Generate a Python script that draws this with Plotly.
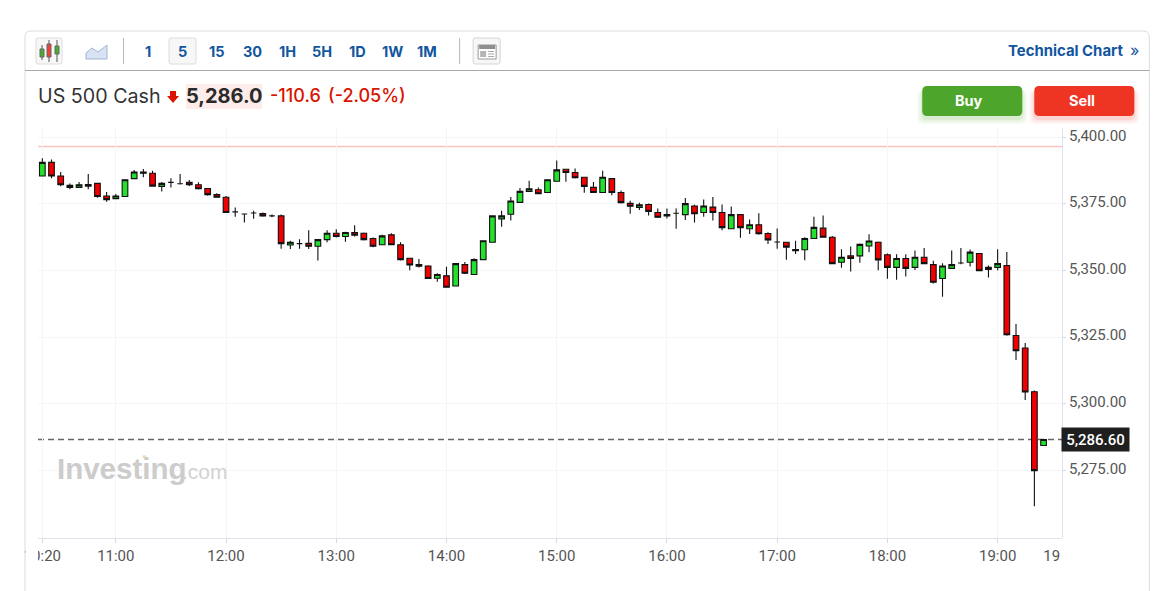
import pandas as pd
import plotly.graph_objects as go

open_ = [5385.5,5390.6,5385.5,5382.0,5381.2,5381.7,5382.7,5378.0,5377.0,5377.8,
5384.5,5386.5,5386.5,5381.6,5383.1,5382.6,5383.1,5382.2,5380.8,5378.5,
5377.5,5372.0,5371.2,5371.6,5371.4,5370.5,5370.5,5359.6,5360.1,5360.2,
5359.1,5361.6,5364.0,5362.8,5364.3,5364.0,5362.0,5359.7,5363.4,5359.7,
5354.6,5352.2,5351.7,5347.1,5348.0,5344.2,5352.2,5348.5,5354.1,5360.6,
5369.4,5371.1,5375.6,5379.7,5380.3,5379.3,5383.5,5388.0,5386.8,5385.0,
5381.2,5379.3,5384.5,5379.3,5375.2,5373.7,5374.8,5371.8,5371.0,5371.5,
5371.0,5374.2,5371.8,5373.8,5371.8,5365.7,5371.0,5365.7,5367.2,5363.9,
5360.7,5360.6,5357.9,5357.8,5362.0,5365.9,5362.5,5353.1,5355.5,5355.5,
5359.2,5360.6,5355.9,5351.2,5354.5,5351.2,5355.0,5352.2,5347.0,5350.8,
5352.8,5353.1,5356.4,5350.4,5351.2,5351.9,5325.6,5320.9,5304.5,5284.3]
high = [5392.1,5391.7,5387.0,5382.7,5383.2,5386.2,5382.7,5379.5,5378.7,5384.1,
5387.7,5388.1,5387.5,5383.2,5384.6,5386.2,5384.0,5383.1,5380.8,5379.0,
5378.0,5373.7,5371.4,5372.4,5371.8,5371.0,5371.0,5361.2,5361.7,5365.1,
5361.6,5365.1,5365.5,5364.6,5367.0,5364.3,5362.4,5363.4,5364.0,5360.6,
5354.6,5354.3,5352.0,5349.0,5351.4,5352.8,5353.2,5354.6,5361.4,5370.6,
5372.4,5377.6,5381.0,5383.7,5381.2,5384.2,5391.3,5388.0,5388.3,5385.2,
5383.2,5387.5,5384.6,5380.0,5376.2,5375.4,5375.2,5373.3,5373.3,5373.3,
5377.2,5374.7,5376.7,5377.6,5374.8,5374.0,5371.0,5369.2,5371.5,5364.4,
5365.8,5360.6,5361.2,5362.5,5370.2,5370.7,5363.0,5358.0,5359.0,5360.1,
5363.6,5360.9,5356.4,5356.1,5356.1,5357.5,5358.5,5353.7,5352.7,5357.5,
5358.5,5357.9,5356.5,5351.9,5358.0,5357.0,5329.9,5322.8,5305.0,5286.8]
low = [5385.5,5384.6,5381.6,5380.5,5381.2,5380.5,5377.3,5375.8,5376.8,5377.8,
5384.5,5385.0,5381.7,5379.7,5381.2,5382.3,5381.7,5380.4,5378.1,5377.3,
5371.8,5370.2,5368.0,5369.4,5370.2,5370.0,5358.2,5358.1,5358.2,5358.1,
5353.8,5360.6,5362.4,5360.8,5362.8,5361.3,5358.7,5359.6,5359.6,5353.8,
5350.1,5351.1,5346.8,5345.8,5343.7,5344.2,5348.7,5348.5,5354.1,5360.6,
5366.4,5368.8,5375.6,5379.7,5378.7,5379.3,5383.5,5383.3,5384.5,5379.2,
5379.2,5379.3,5378.3,5375.2,5371.3,5372.7,5370.7,5369.7,5369.5,5365.7,
5369.0,5368.0,5370.2,5368.8,5365.1,5365.7,5362.3,5363.7,5363.4,5360.0,
5358.2,5354.0,5356.2,5353.9,5362.0,5362.5,5352.6,5351.0,5349.6,5352.9,
5356.9,5350.1,5346.9,5346.5,5347.8,5350.2,5352.4,5345.1,5340.2,5350.8,
5352.4,5351.5,5349.7,5347.4,5350.1,5325.5,5316.4,5301.4,5261.5,5284.3]
close = [5390.6,5385.5,5382.2,5381.2,5382.2,5382.3,5377.8,5376.6,5378.0,5384.1,
5387.0,5387.0,5381.7,5382.7,5383.1,5382.6,5382.2,5380.7,5378.5,5377.5,
5371.8,5372.0,5371.2,5371.6,5370.5,5370.5,5360.1,5360.6,5360.1,5359.1,
5361.6,5364.0,5362.8,5364.3,5363.3,5361.6,5359.1,5363.0,5359.7,5354.1,
5352.1,5351.6,5347.0,5348.5,5343.7,5352.6,5349.0,5354.1,5361.2,5370.5,
5370.5,5376.1,5379.7,5380.7,5378.8,5384.1,5387.8,5386.8,5384.8,5381.6,
5379.3,5385.0,5379.3,5375.5,5374.1,5374.7,5372.2,5370.0,5370.5,5371.5,
5375.1,5371.3,5374.2,5371.8,5366.1,5371.0,5366.1,5367.2,5363.8,5361.5,
5360.7,5358.8,5357.4,5362.0,5366.2,5362.5,5352.6,5355.0,5354.5,5359.8,
5361.1,5354.0,5351.2,5354.5,5350.8,5355.0,5352.6,5345.6,5351.7,5352.2,
5352.8,5356.9,5349.9,5351.2,5352.6,5325.9,5319.9,5304.4,5274.9,5286.6]

times = pd.date_range("2024-08-02 10:20", periods=len(open_), freq="5min")
x_ticks = ["10:20","11:00","12:00","13:00","14:00","15:00","16:00","17:00","18:00","19:00","19:35"]
y_ticks = [5275,5300,5325,5350,5375,5400]
last_price = 5286.6
prev_close = 5396.6
day = "2024-08-02 "
periods = ["1","5","15","30","1H","5H","1D","1W","1M"]

L, R, T, B = 38.0, 1061.7, 128.0, 538.0
W, H = 1162, 591
def px(v): return (v-L)/(R-L)
def py(v): return (B-v)/(B-T)

fig = go.Figure(go.Candlestick(
    x=times, open=open_, high=high, low=low, close=close, whiskerwidth=0,
    increasing=dict(line=dict(color="#111111", width=1.1), fillcolor="#22e02c"),
    decreasing=dict(line=dict(color="#111111", width=1.1), fillcolor="#f00000"),
    hoverinfo="skip", showlegend=False))

def rect(x0,y0,x1,y1,fill=None,line=None,lw=1,layer="above",op=1):
    fig.add_shape(type="rect",xref="paper",yref="paper",x0=px(x0),x1=px(x1),y0=py(y0),y1=py(y1),
                  fillcolor=fill or "rgba(0,0,0,0)",line=dict(color=line or "rgba(0,0,0,0)",width=lw if line else 0),layer=layer,opacity=op)
def rrect(x0,y0,x1,y1,r,fill=None,line=None,lw=1,op=1):
    p=(f"M{px(x0+r)},{py(y0)} L{px(x1-r)},{py(y0)} Q{px(x1)},{py(y0)} {px(x1)},{py(y0+r)} "
       f"L{px(x1)},{py(y1-r)} Q{px(x1)},{py(y1)} {px(x1-r)},{py(y1)} L{px(x0+r)},{py(y1)} "
       f"Q{px(x0)},{py(y1)} {px(x0)},{py(y1-r)} L{px(x0)},{py(y0+r)} Q{px(x0)},{py(y0)} {px(x0+r)},{py(y0)} Z")
    fig.add_shape(type="path",xref="paper",yref="paper",path=p,fillcolor=fill or "rgba(0,0,0,0)",
                  line=dict(color=line or "rgba(0,0,0,0)",width=lw if line else 0),opacity=op)
def hline(x0,x1,y,color,lw=1):
    fig.add_shape(type="line",xref="paper",yref="paper",x0=px(x0),x1=px(x1),y0=py(y),y1=py(y),line=dict(color=color,width=lw))
def vline(x,y0,y1,color,lw=1):
    fig.add_shape(type="line",xref="paper",yref="paper",x0=px(x),x1=px(x),y0=py(y0),y1=py(y1),line=dict(color=color,width=lw))
def poly(pts,fill,line=None):
    p="M"+" L".join(f"{px(a)},{py(b)}" for a,b in pts)+" Z"
    fig.add_shape(type="path",xref="paper",yref="paper",path=p,fillcolor=fill,line=dict(color=line or "rgba(0,0,0,0)",width=1 if line else 0))
def text(x,y,s,size,color,anchor="left",font="Inter",weight=None):
    f=dict(size=size,color=color,family=font)
    if weight: f["weight"]=weight
    fig.add_annotation(xref="paper",yref="paper",x=px(x),y=py(y),text=s,showarrow=False,xanchor=anchor,yanchor="middle",
                       font=f,borderpad=0,borderwidth=0)

# price lines behind the candles
fig.add_shape(type="line",xref="paper",yref="y",x0=0,x1=1,y0=prev_close,y1=prev_close,line=dict(color="#f9c4c0",width=1.5),layer="below")
fig.add_shape(type="line",xref="paper",yref="y",x0=0,x1=1,y0=last_price,y1=last_price,line=dict(color="#666666",width=1.5,dash="6px,4px"),layer="below")

# masks clipping the outer tick labels at the plot edge
rect(26,540,L,575,fill="#ffffff")
rect(R-1,538.6,1110,575,fill="#ffffff")

# card
rrect(25,31,1149,640,6,line="#dcdcdc")
hline(25,1149,70.5,"#a9a9a9",1)

# toolbar
rrect(36,38,62,64,2,fill="#f7f7f7",line="#dddddd")
for cx,top,bot,h0,h1,c in [(42,45,60,49,57,"#43b02a"),(49,40,62,44,57,"#ee4035"),(57,40,62,46,54,"#43b02a")]:
    vline(cx,top,bot,"#555555",1)
    rect(cx-2,h0,cx+2,h1,fill=c,line="#666666")
poly([(86,59),(86,53),(92,48),(98,52),(107,45),(107,59)],"#d8e2f0","#9fb6d6")
vline(123.5,38,64,"#b8b8b8",1)
rrect(169,38,196,64,2,fill="#f7f7f7",line="#dddddd")
for s,cx in zip(periods,[148,182,217,252,287,322,357,392,427]):
    text(cx,51,f"<b>{s}</b>",14.5,"#1256a0","center")
vline(459.5,38,64,"#b8b8b8",1)
rrect(473,38,500,64,2,fill="#f7f7f7",line="#d5d5d5")
rect(478,45,496,59,fill="#ffffff",line="#9a9a9a")
rect(479,45,495,49,fill="#8f8f8f")
rect(480,51,486,57,fill="#b5b5b5")
for yy in (51.5,54,56.5):
    hline(488,494,yy,"#aaaaaa",1)
text(1008,50.5,"<b>Technical Chart</b>",14.9,"#1256a0")
text(1130,50,"»",16,"#1256a0")

# heading
text(38,96,"US 500 Cash",19.7,"#333333")
poly([(170,91),(176,91),(176,96),(179,96),(173,103),(167,96),(170,96)],"#d91400")
rect(186,84,262,109,fill="#fdecea")
text(186,96,"<b>5,286.0</b>",20,"#2a2a2a")
text(270,96,"-110.6",18,"#d91400",weight=500)
text(328,96,"(-2.05%)",18,"#d91400",weight=500)

# buttons
for k,o in ((5,0.05),(3,0.07),(1,0.10)):
    rrect(922-k,90,1022+k,119+k,6,fill="#4ea52b",op=o)
    rrect(1034-k,90,1134+k,119+k,6,fill="#ee3524",op=o)
rrect(922,86,1022,116,5,fill="#4ea52b")
rrect(1034,86,1134,116,5,fill="#ee3524")
text(969,101,"<b>Buy</b>",14.5,"#ffffff","center")
text(1082,101,"<b>Sell</b>",14.5,"#ffffff","center")

# watermark
text(57,468,"<b>Investing</b>",29.5,"#cccccc",font="Liberation Sans")
text(182,471,".com",21,"#d2d2d2",font="Liberation Sans")
fig.add_shape(type="circle",xref="paper",yref="paper",x0=px(142.5),x1=px(146),y0=py(455),y1=py(458.5),
              fillcolor="#f8dca8",line=dict(width=0))

# current price label
fig.add_annotation(xref="paper",yref="y",x=px(1061),y=last_price,text="5,286.60",showarrow=False,xanchor="left",yanchor="middle",
                   font=dict(size=15,color="#ffffff",family="Roboto",weight=500),bgcolor="#1f1f1f",width=67,height=23,borderpad=0,align="center")

fig.update_layout(
    width=W,height=H,margin=dict(l=L,r=W-R,t=T,b=H-B,pad=0),autosize=False,boxgap=0.12,
    paper_bgcolor="#ffffff",plot_bgcolor="#ffffff",showlegend=False,hovermode=False,
    xaxis=dict(type="date",rangeslider=dict(visible=False),range=[day+"10:17:39",day+"19:35:02"],
               tickmode="array",tickvals=[day+t for t in x_ticks],ticktext=x_ticks,
               showgrid=True,gridcolor="#f5f5f7",gridwidth=1,showline=True,linecolor="#e0e3eb",linewidth=1,
               ticks="outside",ticklen=4,tickcolor="#d5d8e0",tickfont=dict(size=15,color="#555555",family="Roboto"),zeroline=False),
    yaxis=dict(side="right",range=[5249.6,5403.5],tickmode="array",tickvals=y_ticks,tickformat=",.2f",
               showgrid=True,gridcolor="#f5f5f7",gridwidth=1,showline=True,linecolor="#e0e3eb",linewidth=1,
               ticks="outside",ticklen=3,tickcolor="#d5d8e0",tickfont=dict(size=15,color="#555555",family="Roboto"),zeroline=False,
               ticklabelshift=-2),
)
fig.write_html("out.html",config=dict(displayModeBar=False),
               post_script="document.documentElement.style.overflow='hidden';document.body.style.margin='0';")
